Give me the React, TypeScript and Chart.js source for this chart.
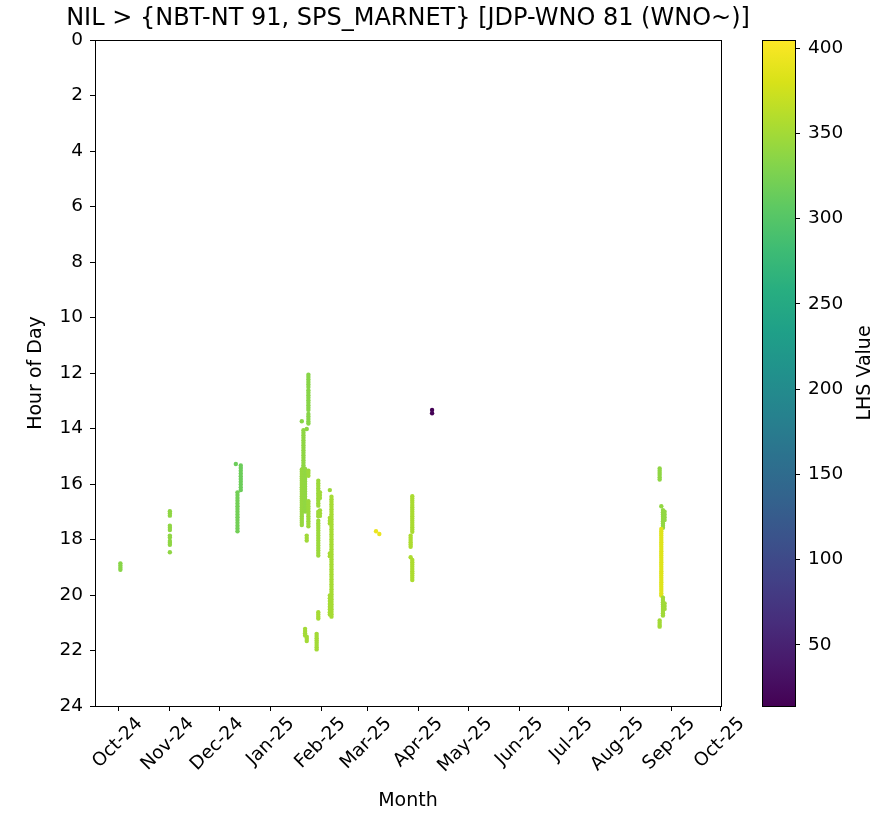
import React, { useEffect, useRef } from 'react';
import { Chart, registerables } from 'chart.js';

Chart.register(...registerables);

// ---------- text ----------
const chartTitle = 'NIL > {NBT-NT 91, SPS_MARNET} [JDP-WNO 81 (WNO~)]';
const xAxisTitle = 'Month';
const yAxisTitle = 'Hour of Day';
const colorbarTitle = 'LHS Value';

// ---------- axes ----------
const originDate = '2024-10-01';
const monthTickDates = [
  '2024-10-01', '2024-11-01', '2024-12-01', '2025-01-01', '2025-02-01', '2025-03-01', '2025-04-01',
  '2025-05-01', '2025-06-01', '2025-07-01', '2025-08-01', '2025-09-01', '2025-10-01',
];
const monthTickLabels = [
  'Oct-24', 'Nov-24', 'Dec-24', 'Jan-25', 'Feb-25', 'Mar-25', 'Apr-25',
  'May-25', 'Jun-25', 'Jul-25', 'Aug-25', 'Sep-25', 'Oct-25',
];
const xLimitDays = [-14.4, 365.2]; // days relative to originDate
const hourLimits = [0, 24];
const hourStep = 2;
const colorLimits = [14.2, 404.7];
const colorbarTicks = [50, 100, 150, 200, 250, 300, 350, 400];

// ---------- data: observation strips (date, LHS value, hours of day) ----------
const stripDates = [
  '2024-10-02', '2024-11-01', '2024-12-11', '2024-12-14', '2024-12-12',
  '2025-01-24', '2025-01-20', '2025-01-23', '2025-01-21', '2025-01-20',
  '2025-01-22', '2025-01-24', '2025-01-23', '2025-01-22', '2025-01-23',
  '2025-01-30', '2025-01-31', '2025-01-30', '2025-01-29',
  '2025-02-06', '2025-02-07', '2025-02-06',
  '2025-03-06', '2025-03-08',
  '2025-03-28', '2025-03-27', '2025-03-28',
  '2025-04-09',
  '2025-08-25', '2025-08-26', '2025-08-27', '2025-08-28', '2025-08-26', '2025-08-27', '2025-08-28', '2025-08-25',
];
const stripValues = [
  334, 338, 316, 316, 320,
  334, 334, 336, 338, 342,
  340, 346, 348, 350, 350,
  346, 348, 352, 350,
  346, 352, 352,
  393, 393,
  354, 356, 356,
  15,
  338, 340, 340, 340, 385, 348, 348, 350,
];
const stripHours = [
  [18.86, 18.94, 19.02, 19.09],
  [16.98, 17.06, 17.14, 17.5, 17.58, 17.66, 17.86, 17.93, 18.05, 18.12, 18.19, 18.46],
  [15.28],
  [15.33, 15.42, 15.52, 15.62, 15.72, 15.82, 15.92, 16.02, 16.12, 16.22],
  [16.3, 16.4, 16.5, 16.6, 16.7, 16.8, 16.9, 17.0, 17.1, 17.2, 17.3, 17.4, 17.5, 17.6, 17.7],
  [12.06, 12.14, 12.23, 12.32, 12.41, 12.5, 12.62, 12.71, 12.8, 12.89, 12.98, 13.07, 13.16, 13.25, 13.33, 13.48, 13.57, 13.66, 13.75, 13.82],
  [13.74],
  [14.02],
  [14.06, 14.15, 14.24, 14.33, 14.42, 14.51, 14.6, 14.69, 14.78, 14.87, 14.96, 15.05, 15.14, 15.23, 15.32, 15.4],
  [15.48, 15.56, 15.64, 15.72, 15.8, 15.88, 15.96, 16.04, 16.12, 16.2, 16.28, 16.36, 16.44, 16.52, 16.6, 16.68, 16.76, 16.84, 16.92, 17.0, 17.08, 17.16, 17.24, 17.32, 17.4, 17.48],
  [15.46, 15.55, 15.64, 15.73, 15.82, 15.91, 16.0, 16.09, 16.18, 16.27, 16.36, 16.45, 16.54, 16.63, 16.72, 16.81, 16.9, 16.99],
  [15.52, 15.6, 15.7, 16.62, 16.71, 16.8, 16.89, 16.98, 17.07, 17.16, 17.25, 17.34, 17.43, 17.52],
  [17.86, 17.95, 18.04],
  [21.22, 21.3, 21.38, 21.46],
  [21.5, 21.58, 21.66],
  [15.88, 15.97, 16.06, 16.15, 16.24, 16.33, 16.42, 16.51, 16.6, 16.69, 16.78, 17.0, 17.08, 17.16, 17.32, 17.41, 17.5, 17.59, 17.68, 17.77, 17.86, 17.95, 18.04, 18.13, 18.22, 18.31, 18.4, 18.49, 18.58],
  [16.3, 16.4, 16.5, 16.95, 17.05, 17.15],
  [20.62, 20.7, 20.78, 20.85],
  [21.4, 21.48, 21.56, 21.64, 21.72, 21.8, 21.88, 21.96],
  [16.22],
  [16.46, 16.55, 16.64, 16.73, 16.82, 16.91, 17.0, 17.09, 17.18, 17.27, 17.36, 17.45, 17.54, 17.63, 17.72, 17.81, 17.9, 17.99, 18.08, 18.17, 18.26, 18.35, 18.44, 18.53, 18.62, 18.71, 18.8, 18.89, 18.98, 19.07, 19.16, 19.25, 19.34, 19.43, 19.52, 19.61, 19.7, 19.79, 19.88, 19.97, 20.06, 20.15, 20.24, 20.33, 20.42, 20.51, 20.6, 20.69, 20.78],
  [17.22, 17.32, 17.42, 18.5, 18.6, 20.02, 20.12, 20.22, 20.32, 20.42, 20.52, 20.62, 20.7],
  [17.7],
  [17.8],
  [16.44, 16.52, 16.6, 16.68, 16.76, 16.84, 16.92, 17.0, 17.08, 17.16, 17.24, 17.32, 17.4, 17.48, 17.56, 17.64, 17.72],
  [17.86, 17.94, 18.02, 18.1, 18.18, 18.26, 18.64],
  [18.74, 18.82, 18.9, 18.98, 19.06, 19.14, 19.22, 19.3, 19.38, 19.46],
  [13.33, 13.45],
  [15.44, 15.52, 15.6, 15.68, 15.76, 15.84],
  [16.8],
  [16.94, 17.02, 17.1, 17.18, 17.26, 17.34, 17.42, 17.5, 17.58],
  [17.0, 17.1, 17.2, 17.3],
  [17.62, 17.7, 17.78, 17.86, 17.94, 18.02, 18.1, 18.18, 18.26, 18.34, 18.42, 18.5, 18.58, 18.66, 18.74, 18.82, 18.9, 18.98, 19.06, 19.14, 19.22, 19.3, 19.38, 19.46, 19.54, 19.62, 19.7, 19.78, 19.86, 19.94, 20.02],
  [20.1, 20.18, 20.26, 20.34, 20.42, 20.5, 20.58, 20.66, 20.74],
  [20.3, 20.4, 20.5],
  [20.92, 21.0, 21.08, 21.14],
];

// ---------- style ----------
const FONT = 'DejaVu Sans';
const TICK_SIZE = 18.5;
const LABEL_SIZE = 19;
const TITLE_SIZE = 24;
const viridisStops = [
  '#440154', '#48186a', '#472d7b', '#424086', '#3b528b', '#33638d', '#2c728e', '#26828e', '#21918c',
  '#1fa088', '#28ae80', '#3fbc73', '#5ec962', '#84d44b', '#addc30', '#d8e219', '#fde725',
];

function hexToRgb(h: string) {
  return [parseInt(h.slice(1, 3), 16), parseInt(h.slice(3, 5), 16), parseInt(h.slice(5, 7), 16)];
}
function viridis(t: number) {
  const c = Math.max(0, Math.min(1, t)) * (viridisStops.length - 1);
  const i = Math.min(Math.floor(c), viridisStops.length - 2);
  const f = c - i;
  const a = hexToRgb(viridisStops[i]);
  const b = hexToRgb(viridisStops[i + 1]);
  const m = a.map((v, k) => Math.round(v + (b[k] - v) * f));
  return `rgb(${m[0]},${m[1]},${m[2]})`;
}
function dayOf(s: string) {
  const [y, m, d] = s.split('-').map(Number);
  const [oy, om, od] = originDate.split('-').map(Number);
  return (Date.UTC(y, m - 1, d) - Date.UTC(oy, om - 1, od)) / 86400000;
}

const frameBox = {
  id: 'frameBox',
  afterDatasetsDraw(chart: any) {
    const { ctx, chartArea: a } = chart;
    ctx.save();
    ctx.strokeStyle = '#000';
    ctx.lineWidth = 1;
    ctx.strokeRect(Math.round(a.left) + 0.5, Math.round(a.top) + 0.5, Math.round(a.right - a.left), Math.round(a.bottom - a.top));
    ctx.fillStyle = '#000';
    ctx.font = `${TITLE_SIZE}px "${FONT}"`;
    ctx.textAlign = 'center';
    ctx.textBaseline = 'middle';
    ctx.fillText(chartTitle, (a.left + a.right) / 2, 19);
    ctx.restore();
  },
};

const colorbarPlugin = {
  id: 'colorbarFill',
  beforeDatasetsDraw(chart: any) {
    const { ctx, chartArea: a } = chart;
    ctx.save();
    const g = ctx.createLinearGradient(0, a.bottom, 0, a.top);
    viridisStops.forEach((c, i) => g.addColorStop(i / (viridisStops.length - 1), c));
    ctx.fillStyle = g;
    ctx.fillRect(a.left, a.top, a.right - a.left, a.bottom - a.top);
    ctx.strokeStyle = '#000';
    ctx.lineWidth = 1;
    ctx.strokeRect(Math.round(a.left) + 0.5, Math.round(a.top) + 0.5, Math.round(a.right - a.left), Math.round(a.bottom - a.top));
    ctx.fillStyle = '#000';
    ctx.font = `${LABEL_SIZE}px "${FONT}"`;
    ctx.textAlign = 'center';
    ctx.textBaseline = 'middle';
    ctx.translate(115, (a.top + a.bottom) / 2);
    ctx.rotate(-Math.PI / 2);
    ctx.fillText(colorbarTitle, 0, 0);
    ctx.restore();
  },
};

export default function App() {
  const mainRef = useRef<HTMLCanvasElement>(null);
  const barRef = useRef<HTMLCanvasElement>(null);

  useEffect(() => {
    const points: { x: number; y: number }[] = [];
    const colors: string[] = [];
    const span = colorLimits[1] - colorLimits[0];
    stripDates.forEach((d, i) => {
      stripHours[i].forEach((h) => {
        points.push({ x: dayOf(d), y: h });
        colors.push(viridis((stripValues[i] - colorLimits[0]) / span));
      });
    });
    const hourTicks: number[] = [];
    for (let h = hourLimits[0]; h <= hourLimits[1]; h += hourStep) hourTicks.push(h);

    const main = new Chart(mainRef.current!, {
      type: 'scatter',
      data: {
        datasets: [
          {
            data: points,
            pointBackgroundColor: colors,
            pointBorderWidth: 0,
            pointRadius: 2.2,
            pointHoverRadius: 2.2,
          },
        ],
      },
      options: {
        animation: false,
        responsive: false,
        maintainAspectRatio: false,
        layout: { padding: { left: 0, right: 29, top: 40, bottom: 0 } },
        plugins: {
          legend: { display: false },
          tooltip: { enabled: false },
          title: { display: false },
        },
        scales: {
          x: {
            type: 'linear',
            min: xLimitDays[0],
            max: xLimitDays[1],
            afterBuildTicks: (s: any) => {
              s.ticks = monthTickDates.map((d) => ({ value: dayOf(d) }));
            },
            afterFit: (s: any) => {
              s.height = 107;
            },
            ticks: {
              autoSkip: false,
              minRotation: 45,
              maxRotation: 45,
              labelOffset: 21,
              padding: 2,
              color: '#000',
              font: { family: FONT, size: TICK_SIZE },
              callback: (_v: any, i: number) => monthTickLabels[i],
            },
            grid: { display: true, drawOnChartArea: false, drawTicks: true, tickLength: 5, color: '#000' },
            border: { display: false },
            title: {
              display: true,
              text: xAxisTitle,
              color: '#000',
              font: { family: FONT, size: LABEL_SIZE },
              padding: { top: 0, bottom: 1 },
            },
          },
          y: {
            type: 'linear',
            reverse: true,
            min: hourLimits[0],
            max: hourLimits[1],
            afterBuildTicks: (s: any) => {
              s.ticks = hourTicks.map((v) => ({ value: v }));
            },
            afterFit: (s: any) => {
              s.width = 95;
            },
            ticks: {
              padding: 7,
              color: '#000',
              font: { family: FONT, size: TICK_SIZE },
            },
            grid: { display: true, drawOnChartArea: false, drawTicks: true, tickLength: 5, color: '#000' },
            border: { display: false },
            title: {
              display: true,
              text: yAxisTitle,
              color: '#000',
              font: { family: FONT, size: LABEL_SIZE },
              padding: { top: 25, bottom: 0 },
            },
          },
        },
      },
      plugins: [frameBox],
    } as any);

    const bar = new Chart(barRef.current!, {
      type: 'scatter',
      data: { datasets: [{ data: [] }] },
      options: {
        animation: false,
        responsive: false,
        maintainAspectRatio: false,
        layout: { padding: { left: 12, right: 0, top: 40, bottom: 107 } },
        plugins: { legend: { display: false }, tooltip: { enabled: false } },
        scales: {
          x: { display: false, min: 0, max: 1 },
          y: {
            position: 'right',
            min: colorLimits[0],
            max: colorLimits[1],
            afterBuildTicks: (s: any) => {
              s.ticks = colorbarTicks.map((v) => ({ value: v }));
            },
            afterFit: (s: any) => {
              s.width = 97;
            },
            ticks: { padding: 8, color: '#000', font: { family: FONT, size: TICK_SIZE } },
            grid: { display: true, drawOnChartArea: false, drawTicks: true, tickLength: 5, color: '#000' },
            border: { display: false },
          },
        },
      },
      plugins: [colorbarPlugin],
    } as any);

    return () => {
      main.destroy();
      bar.destroy();
    };
  }, []);

  return (
    <div style={{ position: 'fixed', left: 0, top: 0, width: 892, height: 813, background: '#fff' }}>
      <canvas ref={mainRef} width={750} height={813} style={{ position: 'absolute', left: 0, top: 0, width: 750, height: 813 }} />
      <canvas ref={barRef} width={142} height={813} style={{ position: 'absolute', left: 750, top: 0, width: 142, height: 813 }} />
    </div>
  );
}
